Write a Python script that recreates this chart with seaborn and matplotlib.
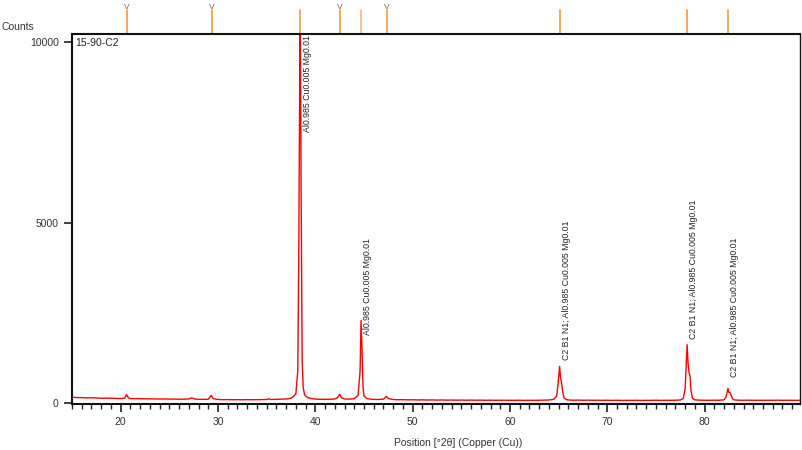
#%% 
# XRD pattern 15-90-C2 redrawn with seaborn
import numpy as np
import pandas as pd
import matplotlib
matplotlib.use("Agg")
import matplotlib.pyplot as plt
import matplotlib.transforms as mtransforms
from matplotlib.ticker import MultipleLocator
import seaborn as sns

#%% Data (2theta in degrees, counts)
two_theta = [
    15.0, 15.5, 16.0, 16.5, 17.0, 17.5, 18.0, 18.5, 19.0, 19.5, 20.0, 20.4, 20.6, 20.8,
    21.0, 21.5, 22.0, 22.5, 23.0, 23.5, 24.0, 24.5, 25.0, 25.5, 26.0, 26.5, 27.0, 27.3,
    27.6, 28.0, 28.5, 29.0, 29.3, 29.5, 30.0, 30.5, 31.0, 31.5, 32.0, 32.5, 33.0, 33.5,
    34.0, 34.5, 35.0, 35.2, 35.4, 35.8, 36.5, 37.0, 37.5, 37.8, 38.0, 38.2, 38.3, 38.45,
    38.55, 38.65, 38.75, 38.9, 39.2, 39.6, 40.0, 40.5, 41.0, 41.5, 42.0, 42.3, 42.5, 42.7,
    43.0, 43.5, 44.0, 44.4, 44.6, 44.7, 44.8, 44.9, 45.0, 45.3, 45.8, 46.5, 47.0, 47.3,
    47.5, 48.0, 48.5, 49.0, 49.5, 50.0, 50.5, 51.0, 51.5, 52.0, 52.5, 53.0, 53.5, 54.0,
    54.5, 55.0, 55.5, 56.0, 56.5, 57.0, 57.5, 58.0, 58.5, 59.0, 59.5, 60.0, 60.5, 61.0,
    61.5, 62.0, 62.5, 63.0, 63.5, 64.0, 64.5, 64.8, 64.95, 65.1, 65.2, 65.3, 65.4, 65.55,
    65.8, 66.0, 66.5, 67.0, 67.5, 68.0, 68.5, 69.0, 69.5, 70.0, 70.5, 71.0, 71.5, 72.0,
    72.5, 73.0, 73.5, 74.0, 74.5, 75.0, 75.5, 76.0, 76.5, 77.0, 77.5, 77.8, 78.0, 78.2,
    78.3, 78.4, 78.5, 78.6, 78.75, 79.0, 79.5, 80.0, 80.5, 81.0, 81.5, 82.0, 82.2, 82.4,
    82.5, 82.6, 82.7, 82.85, 83.0, 83.5, 84.0, 84.5, 85.0, 85.5, 86.0, 86.5, 87.0, 87.5,
    88.0, 88.5, 89.0, 89.5, 89.8,
]
counts = [
    165, 160, 158, 150, 152, 145, 140, 142, 138, 135, 132, 140, 240, 150,
    130, 128, 125, 122, 125, 120, 118, 120, 115, 118, 112, 115, 118, 150,
    118, 110, 108, 112, 220, 130, 105, 100, 102, 98, 100, 97, 100, 98,
    100, 102, 105, 125, 105, 108, 112, 118, 140, 200, 260, 900, 4000, 11500,
    5500, 1200, 450, 230, 160, 130, 115, 110, 108, 112, 118, 160, 250, 150,
    120, 115, 125, 220, 900, 2290, 1500, 450, 200, 130, 110, 105, 115, 190,
    130, 105, 98, 100, 95, 97, 92, 95, 90, 93, 88, 92, 87, 90,
    86, 89, 85, 88, 84, 87, 83, 86, 82, 85, 83, 84, 81, 84,
    80, 83, 81, 84, 86, 90, 110, 200, 560, 1020, 700, 580, 350, 150,
    100, 92, 85, 88, 83, 86, 82, 85, 81, 84, 80, 83, 79, 82,
    80, 83, 79, 82, 80, 84, 80, 83, 81, 85, 90, 130, 400, 1620,
    1100, 850, 750, 350, 140, 95, 86, 84, 82, 85, 83, 95, 180, 410,
    300, 300, 240, 130, 95, 85, 83, 86, 82, 84, 81, 84, 82, 85,
    82, 84, 81, 83, 82,
]

# phase labels on the peaks
peak_pos = [38.45, 44.7, 65.1, 78.2, 82.4]
label_y = [7500, 1900, 1200, 1770, 720]
peak_labels = [
    "Al0.985 Cu0.005 Mg0.01",
    "Al0.985 Cu0.005 Mg0.01",
    "C2 B1 N1; Al0.985 Cu0.005 Mg0.01",
    "C2 B1 N1; Al0.985 Cu0.005 Mg0.01",
    "C2 B1 N1; Al0.985 Cu0.005 Mg0.01",
]

# reference pattern lines above the plot
ref_pos = [20.6, 29.35, 38.47, 42.55, 44.72, 47.35, 65.1, 78.2, 82.4]
ref_has_v = [True, True, False, True, False, True, False, False, False]
ref_colors = ["#f59a3c", "#f59a3c", "#f39a45", "#f59a3c", "#fbb67a",
              "#f59a3c", "#f59a3c", "#f59a3c", "#f59a3c"]

df = pd.DataFrame({"two_theta": two_theta, "counts": counts})

#%% Plot
sns.set_style("white")
plt.rcParams["font.family"] = ["Liberation Sans", "DejaVu Sans"]

fig = plt.figure(figsize=(8.03, 4.5), dpi=100)
ax = fig.add_axes([72 / 803, 1 - 404 / 450, 728 / 803, 370 / 450])

sns.lineplot(data=df, x="two_theta", y="counts", ax=ax, color="#ff0000", linewidth=1.0)

ax.set_xlim(15, 89.8)
ax.set_ylim(-20, 10220)
ax.set_yticks([0, 5000, 10000])
ax.xaxis.set_major_locator(MultipleLocator(10))
ax.xaxis.set_minor_locator(MultipleLocator(1))
ax.set_xticks([20, 30, 40, 50, 60, 70, 80])
ax.tick_params(axis="both", which="major", direction="out", length=6, width=1.2,
               color="#222222", labelsize=7.5, labelcolor="#333333", bottom=True, left=True)
ax.tick_params(axis="x", which="minor", direction="out", length=3.5, width=1.0,
               color="#222222", bottom=True)
ax.set_xlabel("")
ax.set_ylabel("")
for side in ["left", "bottom", "top", "right"]:
    ax.spines[side].set_color("#111111")
    ax.spines[side].set_linewidth(1.5)
ax.spines["right"].set_linewidth(1.0)

for x, y, lab in zip(peak_pos, label_y, peak_labels):
    ax.text(x + 0.7, y, lab, rotation=90, ha="center", va="bottom",
            fontsize=6.3, color="#222222")

ax.text(0.004, 0.99, "15-90-C2", transform=ax.transAxes, ha="left", va="top",
        fontsize=7.5, color="#222222")

# reference sticks on top of the frame
trans = mtransforms.blended_transform_factory(ax.transData, ax.transAxes)
top = 1 + 24 / 370
for x, has_v, c in zip(ref_pos, ref_has_v, ref_colors):
    ax.plot([x, x], [1.0, top], color=c, linewidth=1.2, transform=trans, clip_on=False)
    if has_v:
        ax.text(x, top - 0.003, "V", transform=trans, ha="center", va="bottom",
                fontsize=6, color="#666666", clip_on=False)

fig.text(0.002, 1 - 27 / 450, "Counts", ha="left", va="center", fontsize=7.5, color="#333333")
fig.text(458 / 803, 1 - 443 / 450, "Position [°2θ] (Copper (Cu))", ha="center", va="center",
         fontsize=7.5, color="#333333")

fig.savefig("out.png", dpi=100)
